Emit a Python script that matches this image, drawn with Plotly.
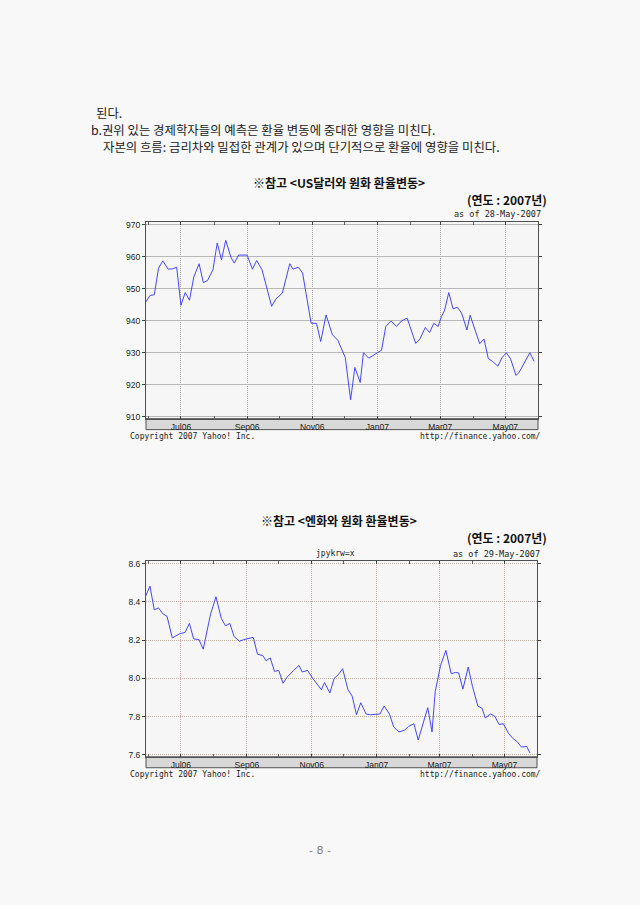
import plotly.graph_objects as go

# ---------------- data ----------------
usd_dates = ["2006-05-29","2006-06-02","2006-06-06","2006-06-10","2006-06-14","2006-06-19","2006-06-23","2006-06-27",
             "2006-07-01","2006-07-05","2006-07-09","2006-07-13","2006-07-18","2006-07-22","2006-07-26","2006-07-31",
             "2006-08-04","2006-08-08","2006-08-12","2006-08-17","2006-08-20","2006-08-24","2006-09-01","2006-09-06",
             "2006-09-10","2006-09-15","2006-09-24","2006-09-28","2006-10-04","2006-10-11","2006-10-14","2006-10-19",
             "2006-10-23","2006-10-27","2006-10-31","2006-11-05","2006-11-09","2006-11-14","2006-11-20","2006-11-25",
             "2006-12-02","2006-12-07","2006-12-11","2006-12-16","2006-12-19","2006-12-24","2006-12-31","2007-01-05",
             "2007-01-09","2007-01-14","2007-01-19","2007-01-24","2007-01-29","2007-02-02","2007-02-06","2007-02-10",
             "2007-02-15","2007-02-19","2007-02-23","2007-02-27","2007-03-02","2007-03-05","2007-03-09","2007-03-13",
             "2007-03-17","2007-03-21","2007-03-26","2007-03-29","2007-04-03","2007-04-07","2007-04-11","2007-04-15",
             "2007-04-19","2007-04-24","2007-04-28","2007-05-02","2007-05-06","2007-05-11","2007-05-14","2007-05-18",
             "2007-05-24","2007-05-28"]
usd_krw = [945.8, 947.9, 948.1, 956.4, 958.7, 956.1, 956.2, 956.7,
           944.8, 948.8, 946.4, 953.6, 957.8, 951.9, 952.6, 955.9,
           964.3, 959.0, 965.1, 959.7, 958.0, 960.5, 960.5, 956.1,
           958.8, 955.9, 944.5, 946.8, 948.6, 957.8, 956.1, 956.7,
           954.9, 947.5, 939.2, 939.2, 933.5, 941.8, 935.6, 933.9,
           928.5, 915.3, 925.4, 920.7, 930.0, 928.3, 929.8, 930.8,
           938.2, 939.9, 938.2, 940.0, 940.8, 937.1, 932.9, 934.3,
           937.9, 936.3, 939.2, 938.2, 941.2, 943.2, 948.8, 943.7,
           944.2, 942.4, 937.1, 941.7, 936.6, 932.8, 934.3, 928.2,
           927.3, 925.8, 928.5, 930.0, 928.0, 922.9, 923.9, 926.3,
           930.0, 927.3]

jpy_dates = ["2006-05-29","2006-06-02","2006-06-06","2006-06-10","2006-06-14","2006-06-18","2006-06-23","2006-06-27",
             "2006-06-30","2006-07-05","2006-07-09","2006-07-13","2006-07-18","2006-07-22","2006-07-29","2006-08-03",
             "2006-08-08","2006-08-12","2006-08-16","2006-08-20","2006-08-25","2006-08-29","2006-09-03","2006-09-07",
             "2006-09-11","2006-09-16","2006-09-19","2006-09-23","2006-09-27","2006-10-01","2006-10-05","2006-10-09",
             "2006-10-15","2006-10-20","2006-10-23","2006-10-28","2006-11-02","2006-11-10","2006-11-13","2006-11-18",
             "2006-11-22","2006-11-26","2006-11-30","2006-12-05","2006-12-09","2006-12-13","2006-12-17","2006-12-22",
             "2006-12-26","2006-12-31","2007-01-04","2007-01-08","2007-01-13","2007-01-17","2007-01-22","2007-01-27",
             "2007-01-31","2007-02-05","2007-02-09","2007-02-18","2007-02-22","2007-02-25","2007-03-02","2007-03-07",
             "2007-03-12","2007-03-16","2007-03-19","2007-03-23","2007-03-28","2007-04-01","2007-04-06","2007-04-10",
             "2007-04-13","2007-04-18","2007-04-22","2007-04-26","2007-04-30","2007-05-05","2007-05-09","2007-05-13",
             "2007-05-17","2007-05-22","2007-05-25"]
jpy_krw = [8.432, 8.483, 8.359, 8.369, 8.339, 8.325, 8.212, 8.225,
           8.234, 8.241, 8.288, 8.207, 8.203, 8.153, 8.339, 8.427,
           8.314, 8.275, 8.288, 8.220, 8.195, 8.203, 8.208, 8.215,
           8.127, 8.119, 8.093, 8.107, 8.037, 8.042, 7.975, 8.008,
           8.042, 8.068, 8.034, 8.042, 8.000, 7.941, 7.978, 7.924,
           8.000, 8.020, 8.051, 7.941, 7.907, 7.810, 7.873, 7.814,
           7.810, 7.814, 7.814, 7.856, 7.814, 7.746, 7.720, 7.729,
           7.749, 7.763, 7.678, 7.847, 7.720, 7.932, 8.068, 8.147,
           8.025, 8.031, 8.029, 7.944, 8.059, 7.958, 7.856, 7.844,
           7.793, 7.814, 7.802, 7.759, 7.763, 7.712, 7.686, 7.669,
           7.641, 7.644, 7.610]

month_ticks = ["2006-07-01", "2006-09-01", "2006-11-01", "2007-01-01", "2007-03-01", "2007-05-01"]
month_labels = ["Jul06", "Sep06", "Nov06", "Jan07", "Mar07", "May07"]
usd_yticks = [910, 920, 930, 940, 950, 960, 970]
jpy_yticks = [7.6, 7.8, 8.0, 8.2, 8.4, 8.6]
jpy_ylabels = ["7.6", "7.8", "8.0", "8.2", "8.4", "8.6"]

body_lines = ["된다.",
              "b.권위 있는 경제학자들의 예측은 환율 변동에 중대한 영향을 미친다.",
              "자본의 흐름: 금리차와 밀접한 관계가 있으며 단기적으로 환율에 영향을 미친다."]

# ---------------- layout helpers ----------------
W, H = 640, 905
def px(x):
    return x / W
def py(y):
    return 1 - y / H

KFONT = "Noto Sans CJK KR"
MONO = "DejaVu Sans Mono"
TICKF = "Liberation Sans"
LINE = "#4646ff"
X_RANGE = ["2006-05-29 06:00", "2007-05-31 15:00"]

fig = go.Figure()
fig.add_trace(go.Scatter(x=usd_dates, y=usd_krw, mode="lines",
                         line=dict(color=LINE, width=1), xaxis="x", yaxis="y",
                         hoverinfo="skip", showlegend=False))
fig.add_trace(go.Scatter(x=jpy_dates, y=jpy_krw, mode="lines",
                         line=dict(color=LINE, width=1), xaxis="x2", yaxis="y2",
                         hoverinfo="skip", showlegend=False))

def xaxis_cfg(domain, anchor, gridcolor, griddash):
    return dict(domain=domain, anchor=anchor, type="date", range=X_RANGE,
                tickmode="array", tickvals=month_ticks, ticktext=month_labels,
                ticks="inside", ticklen=3, tickcolor="#404040",
                showgrid=True, gridcolor=gridcolor, griddash=griddash, gridwidth=1,
                showline=True, linecolor="#505050", linewidth=1, mirror="ticks",
                tickfont=dict(family=TICKF, size=8.5, color="#222"),
                minor=dict(dtick="M1", tick0="2006-06-01", ticks="inside", ticklen=3,
                           tickcolor="#606060", showgrid=False),
                zeroline=False, fixedrange=True)

def yaxis_cfg(domain, anchor, rng, tickvals, ticktext, gridcolor, griddash):
    return dict(domain=domain, anchor=anchor, range=rng, tickmode="array",
                tickvals=tickvals, ticktext=ticktext,
                ticks="outside", ticklen=3, tickcolor="#404040",
                showgrid=True, gridcolor=gridcolor, griddash=griddash, gridwidth=1,
                showline=True, linecolor="#505050", linewidth=1, mirror="ticks",
                tickfont=dict(family=TICKF, size=8.5, color="#222"),
                zeroline=False, fixedrange=True)

c1x = [px(146), px(538)]
c1y = [py(419), py(221)]
c2x = [px(146), px(537)]
c2y = [py(759), py(562)]

shapes = []
for (x0, x1, y0, y1) in [(146, 538, 419, 430), (146, 537, 759, 770)]:
    shapes.append(dict(type="rect", xref="paper", yref="paper", layer="below",
                       x0=px(x0), x1=px(x1), y0=py(y1), y1=py(y0),
                       fillcolor="#d8d8d8", line=dict(color="#505050", width=1)))

ann = []
def text(x, y, s, size, family=KFONT, color="#222", xanchor="left", bold=False):
    ann.append(dict(x=px(x), y=py(y), xref="paper", yref="paper", text=("<b>%s</b>" % s) if bold else s,
                    showarrow=False, xanchor=xanchor, yanchor="middle",
                    font=dict(family=family, size=size, color=color)))

text(94, 112, body_lines[0], 12.4)
text(89, 129, body_lines[1], 12.4)
text(101, 146, body_lines[2], 12.4)

text(339, 182, "※참고 &lt;US달러와 원화 환율변동&gt;", 12, bold=True, xanchor="center", color="#111")
text(549, 199, "(연도 : 2007년)", 12, bold=True, xanchor="right", color="#111")
text(543, 213, "as of 28-May-2007", 8.5, family=MONO, xanchor="right")
text(128, 437, "Copyright 2007 Yahoo! Inc.", 8, family=MONO)
text(543, 437, "http://finance.yahoo.com/", 8, family=MONO, xanchor="right")

text(339, 521, "※참고 &lt;엔화와 원화 환율변동&gt;", 12, bold=True, xanchor="center", color="#111")
text(549, 538, "(연도 : 2007년)", 12, bold=True, xanchor="right", color="#111")
text(335, 555, "jpykrw=x", 8, family=MONO, xanchor="center")
text(542, 555, "as of 29-May-2007", 8.5, family=MONO, xanchor="right")
text(128, 777, "Copyright 2007 Yahoo! Inc.", 8, family=MONO)
text(543, 777, "http://finance.yahoo.com/", 8, family=MONO, xanchor="right")

text(320, 853, "- 8 -", 11, family="DejaVu Sans", color="#808080", xanchor="center")

fig.update_layout(
    width=W, height=H, margin=dict(l=0, r=0, t=0, b=0, pad=0),
    paper_bgcolor="#f8f8f8", plot_bgcolor="#f6f6f6",
    showlegend=False,
    xaxis=xaxis_cfg(c1x, "y", "#a8a8a8", "1px,1px"),
    yaxis=yaxis_cfg(c1y, "x", [909.4, 970.9], usd_yticks, [str(v) for v in usd_yticks], "#b8b8b8", "solid"),
    xaxis2=xaxis_cfg(c2x, "y2", "#c9ab9e", "1px,1px"),
    yaxis2=yaxis_cfg(c2y, "x2", [7.59, 8.615], jpy_yticks, jpy_ylabels, "#c9ab9e", "1px,1px"),
    shapes=shapes, annotations=ann,
)

fig.write_html("out.html")
